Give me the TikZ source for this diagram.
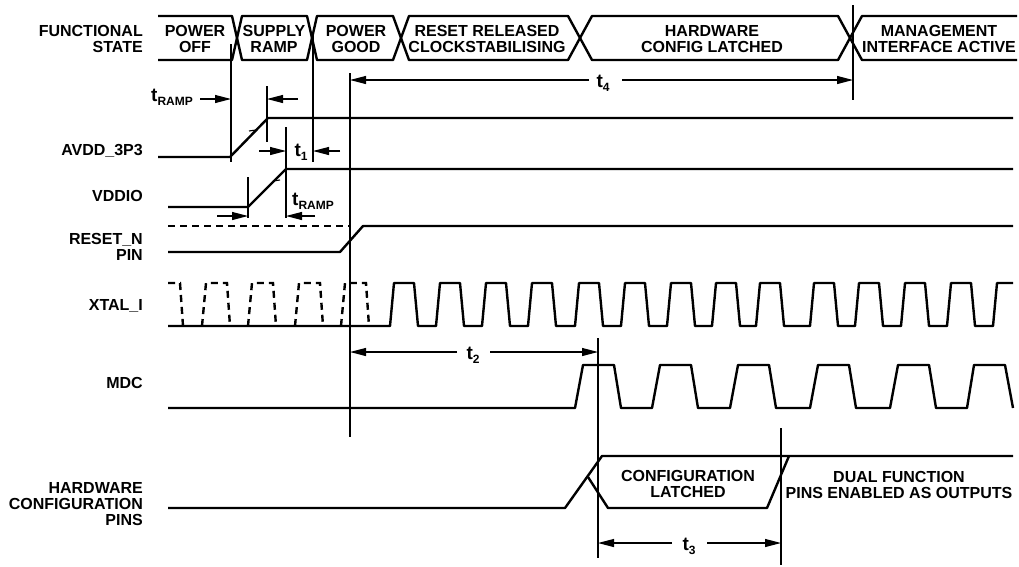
\documentclass[tikz,border=0pt]{standalone}
\usepackage{fontspec}
\setmainfont{Liberation Sans}
\usetikzlibrary{arrows.meta}
\newcommand{\tsub}[1]{{\fontsize{19}{19}\selectfont t}\raisebox{-4pt}{\fontsize{12}{12}\selectfont #1}}
\begin{document}
\begin{tikzpicture}[x=1pt,y=-1pt,
  sig/.style={line width=2.4pt, line join=round},
  sigdash/.style={line width=2.4pt, dash pattern=on 7pt off 5pt},
  guide/.style={line width=1.1pt},
  dimr/.style={line width=1.1pt,-{Triangle[length=16pt,width=8pt]}},
  lbl/.style={font=\bfseries\fontsize{16}{16}\selectfont, align=right, anchor=east, inner sep=0pt},
  txt/.style={font=\bfseries\fontsize{16}{16}\selectfont, align=center, inner sep=0pt},
  tick/.style={line width=1.1pt}]
\useasboundingbox (0,0) rectangle (1019,566);

% ---------- left labels ----------
\node[lbl] (lfs) at (143,39) {FUNCTIONAL\\STATE};
\node[lbl] (lav) at (143,151) {AVDD\_3P3};
\node[lbl] (lvd) at (143,196) {VDDIO};
\node[lbl] (lrs) at (143,247) {RESET\_N\\PIN};
\node[lbl] (lxt) at (143,306) {XTAL\_I};
\node[lbl] (lmd) at (143,383) {MDC};
\node[lbl] (lhw) at (143,504) {HARDWARE\\CONFIGURATION\\PINS};

% ---------- functional state bus ----------
\draw[sig] (158,16) -- (232,16) -- (242,60) -- (307,60) -- (317,16) -- (393,16) -- (409,60) -- (568,60) -- (592,16) -- (838,16) -- (862,60) -- (1017,60);
\draw[sig] (158,60) -- (232,60) -- (242,16) -- (307,16) -- (317,60) -- (393,60) -- (409,16) -- (568,16) -- (592,60) -- (838,60) -- (862,16) -- (1017,16);
\node[txt] (s1) at (195,39) {POWER\\OFF};
\node[txt] (s2) at (274,39) {SUPPLY\\RAMP};
\node[txt] (s3) at (356,39) {POWER\\GOOD};
\node[txt] (s4) at (487,39) {RESET RELEASED\\CLOCKSTABILISING};
\node[txt] (s5) at (712,39) {HARDWARE\\CONFIG LATCHED};
\node[txt] (s6) at (939,39) {MANAGEMENT\\INTERFACE ACTIVE};

% ---------- guide lines ----------
\draw[guide] (231,44) -- (231,162);
\draw[guide] (267,86) -- (267,142);
\draw[guide] (313,34) -- (313,162);
\draw[guide] (350,73) -- (350,437);
\draw[guide] (248,177) -- (248,218);
\draw[guide] (286,127) -- (286,218);
\draw[guide] (853,5) -- (853,100);
\draw[guide] (598,338) -- (598,558);
\draw[guide] (781,428) -- (781,565);

% ---------- AVDD_3P3 ----------
\draw[sig] (158,157) -- (230,157) -- (268,118) -- (1013,118);
\draw[tick] (249,131) -- (256,130);
% ---------- VDDIO ----------
\draw[sig] (168,207) -- (248,207) -- (286,169) -- (1013,169);
\draw[tick] (273,181) -- (280,180);
% ---------- RESET_N ----------
\draw[sigdash] (168,226) -- (350,226);
\draw[sig] (168,252) -- (340,252) -- (363,226) -- (1013,226);

% ---------- XTAL_I ----------
\draw[sigdash] (168,283) -- (180,283) -- (183,326);
\foreach \r in {202,248,295,341}
  \draw[sigdash] (\r,326) -- (\r+4,283) -- (\r+25,283) -- (\r+28,326);
\draw[sig] (168,326) -- (390,326)
  \foreach \r in {390,436,482,528,575,621,667,712,756,810,855,901,947} { -- (\r,326) -- (\r+4,283) -- (\r+24,283) -- (\r+28,326) }
  -- (993,326) -- (997,283) -- (1013,283);

% ---------- MDC ----------
\draw[sig] (168,408)
  \foreach \r in {575,652,730,810,890} { -- (\r,408) -- (\r+8,365) -- (\r+39,365) -- (\r+46,408) }
  -- (967,408) -- (974,365) -- (1005,365) -- (1013,408);

% ---------- HARDWARE CONFIGURATION PINS ----------
\draw[sig] (168,508) -- (565,508) -- (602,456) -- (1013,456);
\draw[sig] (588,477) -- (608,508) -- (767,508) -- (789,456);
\node[txt] (cl) at (688,484) {CONFIGURATION\\LATCHED};
\node[txt] (df) at (899,485) {DUAL FUNCTION\\PINS ENABLED AS OUTPUTS};

% ---------- timing dimensions ----------
\node[txt] (tr1) at (172,97) {\tsub{RAMP}};
\draw[dimr] (200,99) -- (231,99);
\draw[dimr] (298,99) -- (267,99);

\node[txt] (t1) at (301,152) {\tsub{1}};
\draw[dimr] (259,151) -- (286,151);
\draw[dimr] (340,151) -- (313,151);

\node[txt] (tr2) at (313,201) {\tsub{RAMP}};
\draw[dimr] (217,216) -- (248,216);
\draw[dimr] (315,216) -- (286,216);

\node[txt] (t4) at (603,83) {\tsub{4}};
\draw[dimr] (589,80) -- (350,80);
\draw[dimr] (622,80) -- (853,80);

\node[txt] (t2) at (473,355) {\tsub{2}};
\draw[dimr] (457,352) -- (350,352);
\draw[dimr] (490,352) -- (598,352);

\node[txt] (t3) at (689,546) {\tsub{3}};
\draw[dimr] (672,543) -- (598,543);
\draw[dimr] (707,543) -- (781,543);
\end{tikzpicture}
\end{document}
